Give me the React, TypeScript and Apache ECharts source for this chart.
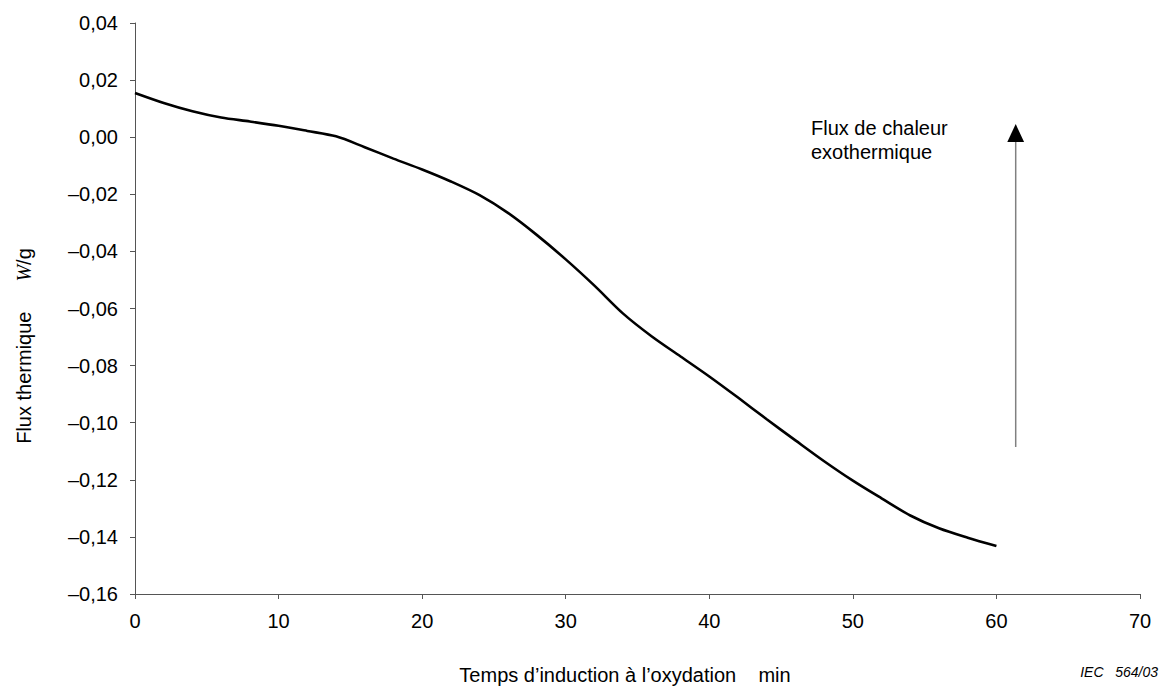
import React, { useEffect, useRef } from "react";
import * as echarts from "echarts";

// Induction time (min) and measured heat flow (W/g)
const timeMin: number[] = [
  0, 2, 4, 6, 8, 10, 12, 14, 16, 18, 20, 22, 24, 26, 28, 30,
  32, 34, 36, 38, 40, 42, 44, 46, 48, 50, 52, 54, 56, 58, 60,
];
const heatFlow: number[] = [
  0.0155, 0.012, 0.0091, 0.0069, 0.0055, 0.004, 0.0022, 0.0003, -0.0035,
  -0.0075, -0.0113, -0.0155, -0.0203, -0.0266, -0.0343, -0.0428, -0.052,
  -0.0618, -0.0698, -0.0768, -0.0838, -0.0912, -0.0988, -0.1062, -0.1135,
  -0.1203, -0.1265, -0.1325, -0.137, -0.1403, -0.1432,
];

const xTicks = { min: 0, max: 70, step: 10 };
const yTicks = { min: -0.16, max: 0.04, step: 0.02 };

const xTitle = "Temps d’induction à l’oxydation    min";
const annotationLines = ["Flux de chaleur", "exothermique"];
const figureRef = "IEC   564/03";

const FONT = "'Liberation Sans', Arial, sans-serif";

function fmtY(v: number): string {
  const r = Math.round(v * 100) / 100;
  const s = Math.abs(r).toFixed(2).replace(".", ",");
  return r < 0 ? "–" + s : s;
}

export default function App() {
  const ref = useRef<HTMLDivElement>(null);

  useEffect(() => {
    if (!ref.current) return;
    const chart = echarts.init(ref.current, null, { renderer: "svg" });

    const axisLineColor = "#555555";

    chart.setOption({
      animation: false,
      backgroundColor: "#ffffff",
      grid: { left: 135, right: 20, top: 23, bottom: 92, containLabel: false },
      xAxis: {
        type: "value",
        min: xTicks.min,
        max: xTicks.max,
        interval: xTicks.step,
        axisLine: { show: true, onZero: false, lineStyle: { color: axisLineColor, width: 1 } },
        axisTick: { show: true, inside: false, length: 5, lineStyle: { color: axisLineColor } },
        splitLine: { show: false },
        axisLabel: {
          color: "#000",
          fontFamily: FONT,
          fontSize: 20,
          margin: 17,
        },
      },
      yAxis: {
        type: "value",
        min: yTicks.min,
        max: yTicks.max,
        interval: yTicks.step,
        axisLine: { show: true, onZero: false, lineStyle: { color: axisLineColor, width: 1 } },
        axisTick: { show: true, inside: false, length: 5, lineStyle: { color: axisLineColor } },
        splitLine: { show: false },
        axisLabel: {
          color: "#000",
          fontFamily: FONT,
          fontSize: 20,
          margin: 17,
          formatter: (v: number) => fmtY(v),
        },
      },
      series: [
        {
          type: "line",
          data: timeMin.map((t, i) => [t, heatFlow[i]]),
          smooth: 0.3,
          symbol: "none",
          lineStyle: { color: "#000", width: 2.6 },
        },
      ],
      graphic: [
        // vertical axis title
        {
          type: "text",
          x: 24,
          y: 346,
          rotation: Math.PI / 2,
          style: {
            text: "{a|Flux thermique}{w|W}{a|/g}",
            align: "center",
            verticalAlign: "middle",
            rich: {
              a: { fontFamily: FONT, fontSize: 20, fill: "#000" },
              w: {
                fontFamily: "'Liberation Serif', 'Times New Roman', serif",
                fontStyle: "italic",
                fontSize: 20,
                fill: "#000",
                padding: [0, 0, 0, 30],
              },
            },
          },
        },
        // horizontal axis title
        {
          type: "text",
          x: 625,
          y: 675,
          style: {
            text: xTitle,
            fontFamily: FONT,
            fontSize: 20,
            fill: "#000",
            align: "center",
            verticalAlign: "middle",
          },
        },
        // exothermic direction note
        {
          type: "text",
          x: 811,
          y: 140,
          style: {
            text: annotationLines.join("\n"),
            fontFamily: FONT,
            fontSize: 20,
            lineHeight: 24,
            fill: "#000",
            align: "left",
            verticalAlign: "middle",
          },
        },
        {
          type: "line",
          shape: { x1: 1015.7, y1: 447, x2: 1015.7, y2: 140 },
          style: { stroke: "#808080", lineWidth: 1.5 },
        },
        {
          type: "polygon",
          shape: {
            points: [
              [1015.7, 124],
              [1007.3, 142],
              [1024.1, 142],
            ],
          },
          style: { fill: "#000" },
        },
        // figure reference
        {
          type: "text",
          x: 1158,
          y: 672,
          style: {
            text: figureRef,
            fontFamily: FONT,
            fontStyle: "italic",
            fontSize: 14,
            fill: "#000",
            align: "right",
            verticalAlign: "middle",
          },
        },
      ],
    });

    return () => chart.dispose();
  }, []);

  return (
    <div
      ref={ref}
      style={{ position: "fixed", left: 0, top: 0, width: 1160, height: 686, background: "#fff" }}
    />
  );
}
